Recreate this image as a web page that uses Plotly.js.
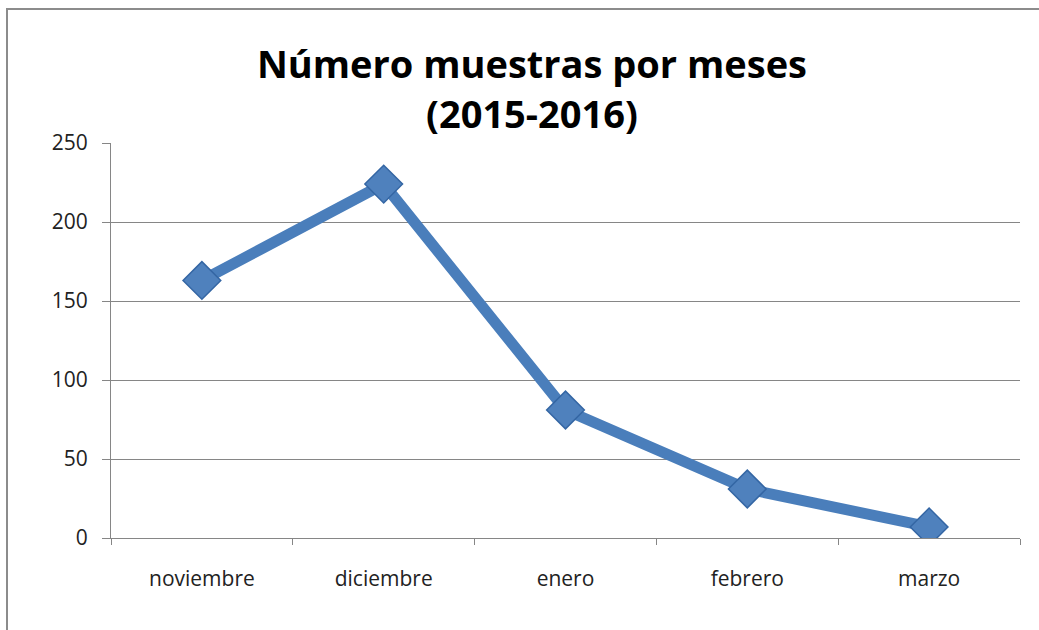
<!DOCTYPE html>
<html>
<head>
<meta charset="utf-8">
<script src="https://cdn.plot.ly/plotly-3.0.1.min.js"></script>
<style>
html,body{margin:0;padding:0;background:#fff;}
#wrap{position:relative;width:1039px;height:630px;overflow:hidden;}
#frame{position:absolute;left:6px;top:8px;width:1100px;height:700px;border-top:2px solid #8c8c8c;border-left:2px solid #8c8c8c;}
#chart{position:absolute;left:0;top:0;width:1039px;height:630px;}
</style>
</head>
<body>
<div id="wrap">
<div id="frame"></div>
<div id="chart"></div>
</div>
<script>
const months = ["noviembre", "diciembre", "enero", "febrero", "marzo"];
const samples = [163, 224, 81, 31, 7];
const yTicks = [0, 50, 100, 150, 200, 250];

const trace = {
  x: months,
  y: samples,
  type: "scatter",
  mode: "lines+markers",
  line: {color: "#4A7EBB", width: 11},
  marker: {symbol: "diamond", size: 29, color: "#4F81BD", line: {color: "#3466A4", width: 1.5}},
  hoverinfo: "x+y"
};

const layout = {
  width: 1039,
  height: 630,
  paper_bgcolor: "rgba(0,0,0,0)",
  plot_bgcolor: "rgba(0,0,0,0)",
  margin: {l: 111, r: 19, t: 143, b: 92},
  showlegend: false,
  title: {
    text: "<b>Número muestras por meses<br>(2015-2016)</b>",
    font: {family: "Open Sans, Noto Sans, sans-serif", size: 38, color: "#000"},
    x: 0.512, xanchor: "center",
    y: 0.876, yanchor: "top",
    yref: "container"
  },
  xaxis: {
    type: "category",
    range: [-0.5, 4.5],
    showgrid: false,
    showline: true, linecolor: "#868686", linewidth: 1,
    ticks: "outside", ticklen: 6, tickcolor: "#868686",
    tickson: "boundaries",
    tickfont: {family: "Open Sans, sans-serif", size: 21, color: "#222"},
    ticklabelstandoff: 22,
    fixedrange: true
  },
  yaxis: {
    range: [0, 250],
    tickvals: yTicks,
    ticktext: yTicks.map(String),
    showgrid: true, gridcolor: "#868686", gridwidth: 1,
    showline: true, linecolor: "#868686", linewidth: 1,
    ticks: "outside", ticklen: 8, tickcolor: "#868686",
    zeroline: false,
    tickfont: {family: "Open Sans, sans-serif", size: 21, color: "#222"},
    ticklabelstandoff: 10,
    fixedrange: true
  }
};

Plotly.newPlot("chart", [trace], layout, {displayModeBar: false, staticPlot: true});
</script>
</body>
</html>
